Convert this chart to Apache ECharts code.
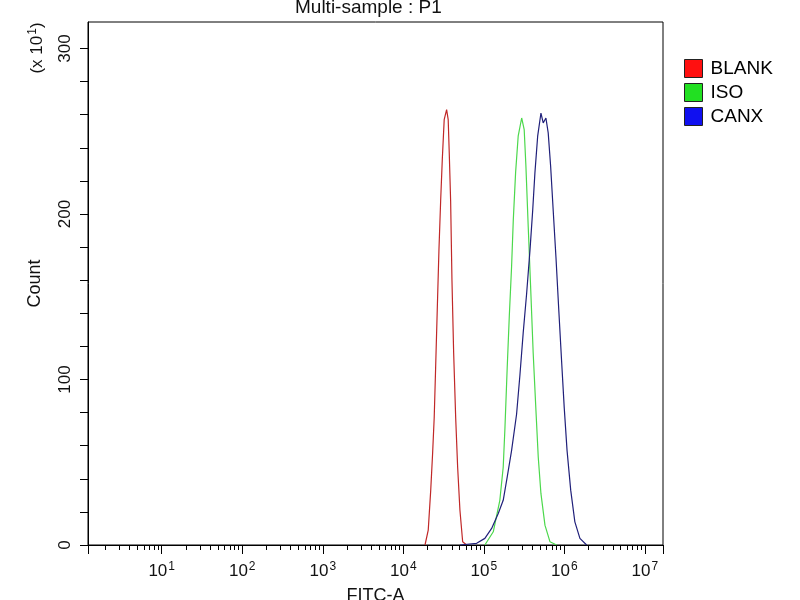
<!DOCTYPE html>
<html>
<head>
<meta charset="utf-8">
<script src="https://cdn.jsdelivr.net/npm/echarts@6/dist/echarts.min.js"></script>
<style>
  html, body { margin: 0; padding: 0; background: #fff; }
  #chart { width: 800px; height: 600px; }
</style>
</head>
<body>
<div id="chart"></div>
<script>
// FITC-A channel values and counts (x10^1)
var blankFitc = [1.86e4, 2.04e4, 2.19e4, 2.31e4, 2.42e4, 2.52e4, 2.64e4, 2.77e4, 2.91e4, 3.05e4, 3.22e4,
    3.45e4, 3.61e4, 3.72e4, 3.87e4, 4.02e4, 4.22e4, 4.47e4, 4.73e4, 5.05e4, 5.46e4, 6.11e4];
var blankCount = [0, 9, 33, 55, 77, 107, 142, 178, 208, 233, 257,
    263, 257, 237, 208, 160, 116, 77, 47, 21, 2, 0];

var isoFitc = [1.03e5, 1.31e5, 1.58e5, 1.74e5, 1.83e5, 1.95e5, 2.07e5, 2.21e5, 2.32e5, 2.48e5, 2.67e5,
    2.95e5, 3.17e5, 3.33e5, 3.56e5, 3.81e5, 4.10e5, 4.44e5, 4.74e5, 5.12e5, 5.74e5, 6.62e5, 8.01e5];
var isoCount = [0, 8, 27, 47, 71, 107, 138, 168, 196, 225, 247,
    258, 251, 229, 192, 156, 116, 81, 53, 31, 12, 2, 0];

var canxFitc = [5.05e4, 8.14e4, 1.03e5, 1.25e5, 1.51e5, 1.74e5, 1.95e5, 2.21e5, 2.55e5, 2.81e5, 3.08e5,
    3.40e5, 3.74e5, 4.04e5, 4.31e5, 4.66e5, 5.12e5, 5.46e5, 5.90e5, 6.30e5, 6.75e5, 7.27e5,
    7.86e5, 8.48e5, 9.24e5, 9.96e5, 1.08e6, 1.20e6, 1.35e6, 1.56e6, 1.89e6];
var canxCount = [0, 1, 4, 10, 19, 27, 41, 57, 79, 103, 128,
    152, 178, 202, 225, 247, 261, 255, 258, 249, 229, 202,
    174, 144, 111, 83, 57, 33, 14, 4, 0];

var seriesNames = ['BLANK', 'ISO', 'CANX'];
var decades = [1, 2, 3, 4, 5, 6, 7];
var yLabels = [0, 100, 200, 300];

var xMin = 1.216;      // left edge of the FITC-A range
var xMax = 16777216;   // 2^24 channel top
var yMax = 316;

function toLog(xs, ys) {
    return xs.map(function (v, i) { return [Math.log10(v), ys[i]]; });
}

var minorTicks = [];
for (var d = 0; d < 7; d++) {
    for (var k = 2; k <= 9; k++) {
        var t = Math.log10(k * Math.pow(10, d));
        if (t > Math.log10(xMin) && t < Math.log10(xMax)) minorTicks.push(t);
    }
}
var yTicks = [];
for (var y = 0; y <= 300; y += 20) yTicks.push(y);

var chart = echarts.init(document.getElementById('chart'));
var lo = Math.log10(xMin), hi = Math.log10(xMax);

var option = {
    animation: false,
    textStyle: { fontFamily: 'Liberation Sans, Arial, sans-serif', color: '#000' },
    title: {
        text: 'Multi-sample : P1',
        left: 290,
        top: -7,
        textStyle: { fontSize: 19, fontWeight: 'normal', color: '#111' }
    },
    legend: {
        orient: 'vertical',
        left: 679,
        top: 54,
        itemWidth: 18,
        itemHeight: 18,
        itemGap: 5,
        icon: 'rect',
        itemStyle: { borderColor: '#222', borderWidth: 1 },
        textStyle: { fontSize: 19, color: '#000', padding: [0, 0, 0, 3] },
        data: [
            { name: 'BLANK', itemStyle: { color: '#ff1010' } },
            { name: 'ISO', itemStyle: { color: '#22e022' } },
            { name: 'CANX', itemStyle: { color: '#1010f0' } }
        ]
    },
    grid: {
        left: 88, right: 137, top: 22, bottom: 55,
        outerBoundsMode: 'none',
        show: true, borderColor: '#000', borderWidth: 1
    },
    xAxis: [{
        type: 'value',
        min: lo, max: hi,
        position: 'bottom',
        name: 'FITC-A',
        nameLocation: 'middle',
        nameGap: 42,
        nameTextStyle: { fontSize: 18, color: '#111' },
        axisLine: { lineStyle: { color: '#000', width: 1 } },
        axisTick: { customValues: minorTicks, length: 5, lineStyle: { color: '#000' } },
        axisLabel: { show: false },
        splitLine: { show: false }
    }, {
        type: 'value',
        min: lo, max: hi,
        position: 'bottom',
        axisLine: { show: false },
        axisTick: { customValues: [lo].concat(decades, [hi]), length: 9, lineStyle: { color: '#000' } },
        axisLabel: {
            customValues: decades,
            margin: 16,
            formatter: function (v) { return '{b|10}{s|' + Math.round(v) + '}'; },
            rich: {
                b: { fontSize: 17, color: '#111' },
                s: { fontSize: 12, color: '#111', padding: [0, 0, 9, 1] }
            }
        },
        splitLine: { show: false }
    }],
    yAxis: {
        type: 'value',
        min: 0, max: yMax,
        name: 'Count',
        nameLocation: 'middle',
        nameRotate: 90,
        nameGap: 44,
        nameTextStyle: { fontSize: 18, color: '#111' },
        axisLine: { show: true, lineStyle: { color: '#000', width: 1 } },
        axisTick: { show: true, customValues: yTicks, length: 8, lineStyle: { color: '#000' } },
        axisLabel: { customValues: yLabels, rotate: 90, fontSize: 17, color: '#111', margin: 14 },
        splitLine: { show: false }
    },
    graphic: [{
        type: 'text',
        x: 37, y: 48,
        rotation: Math.PI / 2,
        style: {
            text: '(x 10{s|1})',
            fontSize: 17,
            fill: '#111',
            align: 'center',
            verticalAlign: 'middle',
            rich: { s: { fontSize: 12, fill: '#111', padding: [0, 0, 9, 1] } }
        }
    }],
    series: [{
        name: seriesNames[0], type: 'line', showSymbol: false,
        lineStyle: { color: '#c02828', width: 1.2 }, itemStyle: { color: '#ff1010' },
        data: toLog(blankFitc, blankCount)
    }, {
        name: seriesNames[1], type: 'line', showSymbol: false,
        lineStyle: { color: '#4cd84c', width: 1.2 }, itemStyle: { color: '#22e022' },
        data: toLog(isoFitc, isoCount)
    }, {
        name: seriesNames[2], type: 'line', showSymbol: false,
        lineStyle: { color: '#20207a', width: 1.2 }, itemStyle: { color: '#1010f0' },
        data: toLog(canxFitc, canxCount)
    }]
};
chart.setOption(option);
</script>
</body>
</html>
